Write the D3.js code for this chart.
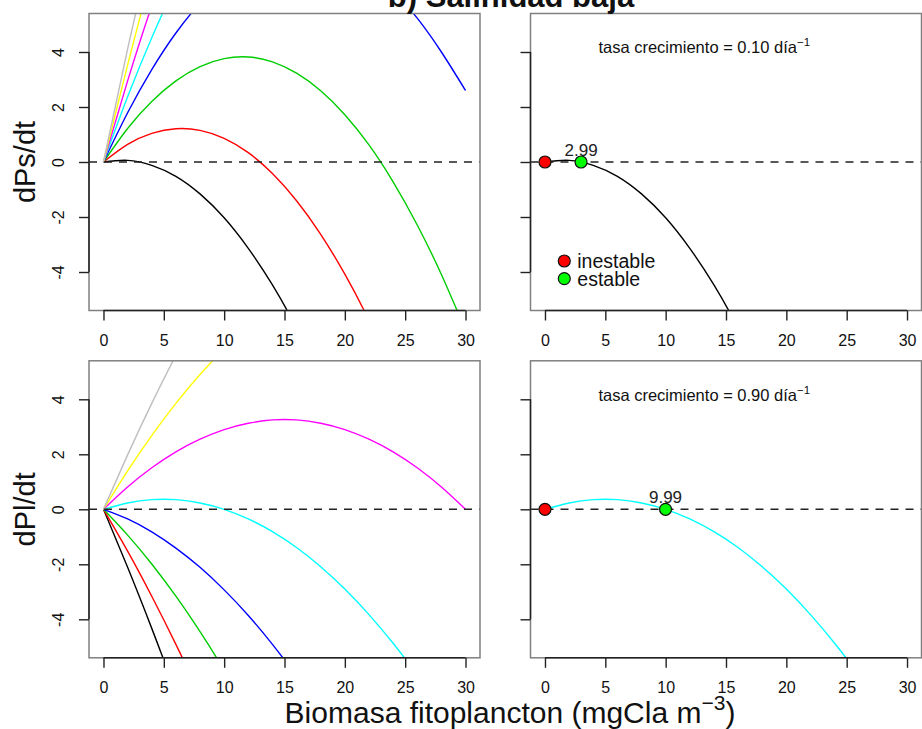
<!DOCTYPE html>
<html>
<head>
<meta charset="utf-8">
<script src="https://cdn.jsdelivr.net/npm/d3@7"></script>
<style>
  body { margin: 0; background: #fff; }
  text { font-family: "Liberation Sans", Arial, Helvetica, sans-serif; }
</style>
</head>
<body>
<svg width="922" height="729"></svg>
<script>
// biomasa en la que se lee cada curva
const xGrid = [0, 2, 4, 6, 8, 10, 12, 14, 16, 18, 20, 22, 24, 26, 28, 30];
const colores = ["black", "red", "#00CD00", "blue", "cyan", "magenta", "yellow", "#BEBEBE"];

// dPs/dt (curvas cortadas poco después de salir del gráfico)
const dPs = [
  [0, 0.06, -0.12, -0.52, -1.16, -2.03, -3.14, -4.47, -6.04, -7.84],
  [0, 0.64, 1.04, 1.21, 1.15, 0.86, 0.34, -0.42, -1.41, -2.63, -4.08, -5.76, -7.68],
  [0, 1.22, 2.2, 2.95, 3.47, 3.76, 3.82, 3.64, 3.23, 2.59, 1.72, 0.62, -0.72, -2.29, -4.09, -6.12],
  [0, 1.79, 3.36, 4.69, 5.78, 6.65, 7.28, 7.69, 7.86, 7.79, 7.5, 6.97, 6.22, 5.23, 4.0, 2.6],
  [0, 2.37, 4.52, 6.43, 8.1],
  [0, 2.95, 5.68, 8.17],
  [0, 3.53, 6.83, 9.9],
  [0, 4.11, 7.99, 11.64]
];

// dPl/dt
const dPl = [
  [0, -2.11, -4.33, -6.67, -9.12],
  [0, -1.52, -3.16, -4.91, -6.78, -8.77],
  [0, -0.94, -1.99, -3.16, -4.45, -5.85, -7.37],
  [0, -0.35, -0.82, -1.41, -2.11, -2.93, -3.86, -4.91, -6.08, -7.36],
  [0, 0.23, 0.35, 0.35, 0.23, 0, -0.35, -0.81, -1.39, -2.09, -2.9, -3.83, -4.87, -6.03, -7.31],
  [0, 0.81, 1.51, 2.09, 2.55, 2.9, 3.13, 3.25, 3.25, 3.13, 2.9, 2.55, 2.09, 1.51, 0.81, 0],
  [0, 1.4, 2.68, 3.85, 4.9, 5.83, 6.65],
  [0, 1.98, 3.85, 5.6, 7.23]
];

const xTicks = [0, 5, 10, 15, 20, 25, 30];
const yTicks = [-4, -2, 0, 2, 4];
const equilibriosPs = [0, 2.99];
const equilibriosPl = [0, 9.99];
const tasas = ["0.10", "0.90"];
const leyenda = ["inestable", "estable"];
const coloresPuntos = ["red", "#00FF00"];

const svg = d3.select("svg");
const W = 391, H = 297;

function panel(px, py, curvas, cols, opts) {
  const x = d3.scaleLinear().domain([-1.2, 31.2]).range([px, px + W]);
  const y = d3.scaleLinear().domain([-5.4, 5.4]).range([py + H, py]);
  const id = "clip" + Math.round(px) + "_" + Math.round(py);

  svg.append("clipPath").attr("id", id)
    .append("rect").attr("x", px).attr("y", py).attr("width", W).attr("height", H);

  const g = svg.append("g");
  const plot = g.append("g").attr("clip-path", `url(#${id})`);

  const line = d3.line()
    .x((d, i) => x(xGrid[i]))
    .y(d => y(d))
    .curve(d3.curveNatural);

  plot.selectAll(".curva")
    .data(curvas)
    .enter().append("path")
    .attr("class", "curva")
    .attr("d", d => line(d))
    .attr("fill", "none")
    .attr("stroke", (d, i) => cols[i])
    .attr("stroke-width", 1.4);

  plot.append("line")
    .attr("x1", px).attr("x2", px + W)
    .attr("y1", y(0)).attr("y2", y(0))
    .attr("stroke", "#222")
    .attr("stroke-width", 1.4)
    .attr("stroke-dasharray", "8,7");

  // caja gris
  g.append("rect")
    .attr("x", px).attr("y", py).attr("width", W).attr("height", H)
    .attr("fill", "none").attr("stroke", "#808080").attr("stroke-width", 1.5);

  // eje x
  const xAxisGroup = g.append("g")
    .attr("transform", `translate(0,${py + H})`)
    .call(d3.axisBottom(x).tickValues(xTicks).tickSize(10).tickPadding(14).tickSizeOuter(0));
  xAxisGroup.select(".domain").remove();
  xAxisGroup.attr("font-family", null).attr("font-size", null);
  xAxisGroup.selectAll("text").style("font-size", "16px").attr("fill", "#111");
  xAxisGroup.selectAll("line").attr("stroke", "#222").attr("stroke-width", 1.4);
  g.append("line")
    .attr("x1", x(xTicks[0])).attr("x2", x(xTicks[xTicks.length - 1]))
    .attr("y1", py + H).attr("y2", py + H)
    .attr("stroke", "#222").attr("stroke-width", 1.5);

  // eje y
  const yAxisGroup = g.append("g")
    .attr("transform", `translate(${px},0)`)
    .call(d3.axisLeft(y).tickValues(yTicks).tickSize(10).tickSizeOuter(0)
      .tickFormat(d => opts.yLabels ? String(d) : ""));
  yAxisGroup.select(".domain").remove();
  yAxisGroup.attr("font-family", null).attr("font-size", null);
  yAxisGroup.selectAll("line").attr("stroke", "#222").attr("stroke-width", 1.4);
  yAxisGroup.selectAll("text")
    .attr("x", 0).attr("dy", 0)
    .attr("transform", "translate(-25,0) rotate(-90)")
    .style("text-anchor", "middle")
    .style("font-size", "16px")
    .attr("fill", "#111");
  g.append("line")
    .attr("x1", px).attr("x2", px)
    .attr("y1", y(yTicks[0])).attr("y2", y(yTicks[yTicks.length - 1]))
    .attr("stroke", "#222").attr("stroke-width", 1.5);

  if (opts.ylab) {
    g.append("text")
      .attr("transform", `translate(35,${y(0)}) rotate(-90)`)
      .attr("text-anchor", "middle")
      .style("font-size", "29px")
      .attr("fill", "#111")
      .text(opts.ylab);
  }

  if (opts.tasa) {
    const t = g.append("text")
      .attr("x", x(13.2)).attr("y", y(3.95))
      .attr("text-anchor", "middle")
      .style("font-size", "16.5px")
      .attr("fill", "#111");
    t.append("tspan").text(`tasa crecimiento = ${opts.tasa} día`);
    t.append("tspan").attr("dy", -7).style("font-size", "11.5px").text("\u22121");
  }

  if (opts.eq) {
    g.selectAll(".eq")
      .data(opts.eq)
      .enter().append("circle")
      .attr("class", "eq")
      .attr("cx", d => x(d)).attr("cy", y(0)).attr("r", 6)
      .attr("fill", (d, i) => coloresPuntos[i])
      .attr("stroke", "#111").attr("stroke-width", 1.2);
    g.append("text")
      .attr("x", x(opts.eq[1])).attr("y", y(0) - 6)
      .attr("text-anchor", "middle")
      .style("font-size", "17px")
      .attr("fill", "#222")
      .text(opts.eq[1].toFixed(2));
  }

  if (opts.legend) {
    const lg = g.selectAll(".ley")
      .data(leyenda)
      .enter().append("g")
      .attr("class", "ley")
      .attr("transform", (d, i) => `translate(${x(1.6)},${y(-3.6) + i * 17.6})`);
    lg.append("circle").attr("r", 6)
      .attr("fill", (d, i) => coloresPuntos[i])
      .attr("stroke", "#111").attr("stroke-width", 1.2);
    lg.append("text").attr("x", 13).attr("y", 7)
      .style("font-size", "19.5px").attr("fill", "#111")
      .text(d => d);
  }
}

panel(89, 13.5, dPs, colores, { yLabels: true, ylab: "dPs/dt" });
panel(530.5, 13.5, [dPs[0]], [colores[0]], { tasa: tasas[0], eq: equilibriosPs, legend: true });
panel(89, 360.8, dPl, colores, { yLabels: true, ylab: "dPl/dt" });
panel(530.5, 360.8, [dPl[4]], [colores[4]], { tasa: tasas[1], eq: equilibriosPl });

// titulo (cortado arriba en el original)
svg.append("text")
  .attr("x", 511).attr("y", 7)
  .attr("text-anchor", "middle")
  .style("font-size", "31px").style("font-weight", "bold")
  .attr("fill", "#111")
  .text("b) Salinidad baja");

const xlab = svg.append("text")
  .attr("x", 510).attr("y", 723)
  .attr("text-anchor", "middle")
  .style("font-size", "30px")
  .attr("fill", "#111");
xlab.append("tspan").text("Biomasa fitoplancton (mgCla m");
xlab.append("tspan").attr("dy", -13).style("font-size", "21px").text("\u22123");
xlab.append("tspan").attr("dy", 13).text(")");
</script>
</body>
</html>
